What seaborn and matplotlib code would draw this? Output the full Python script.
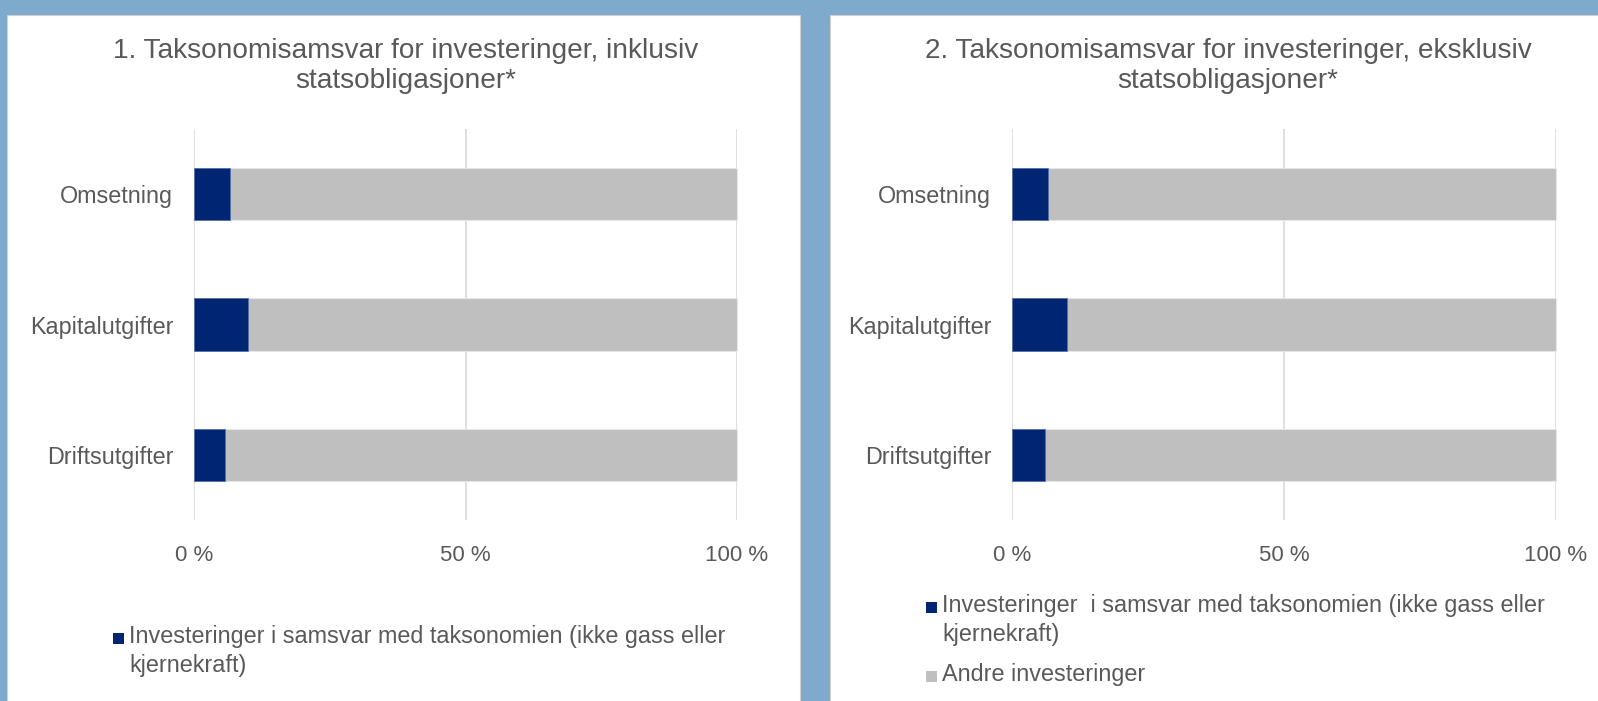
import matplotlib
matplotlib.use("Agg")
import matplotlib.pyplot as plt
from matplotlib.patches import Rectangle
import seaborn as sns
import pandas as pd

# data
kategorier = ["Omsetning", "Kapitalutgifter", "Driftsutgifter"]
samsvar_inkl = [6.6, 10.0, 5.7]
andre_inkl = [93.4, 90.0, 94.3]
samsvar_ekskl = [6.6, 10.1, 6.0]
andre_ekskl = [93.4, 89.9, 94.0]
titler = [
    "1. Taksonomisamsvar for investeringer, inklusiv\nstatsobligasjoner*",
    "2. Taksonomisamsvar for investeringer, eksklusiv\nstatsobligasjoner*",
]
serie_navn = [
    "Investeringer i samsvar med taksonomien (ikke gass eller\nkjernekraft)",
    "Investeringer  i samsvar med taksonomien (ikke gass eller\nkjernekraft)",
    "Andre investeringer",
]
x_ticks = [0, 50, 100]

NAVY = "#002673"
GREY = "#bfbfbf"
TXT = "#595959"
BG = "#7eaacc"

sns.set_style("white")
plt.rcParams["font.family"] = ["Liberation Sans", "DejaVu Sans"]

W, H = 1598, 701
fig = plt.figure(figsize=(W / 100, H / 100), dpi=100)
fig.patch.set_facecolor(BG)

# white panels
for x0, x1 in [(7, 800), (830, W + 2)]:
    fig.add_artist(Rectangle((x0 / W, -0.01), (x1 - x0) / W, 1.01 - 15 / H,
                             transform=fig.transFigure, facecolor="white",
                             edgecolor="#d0d0d0", lw=0.8, zorder=0))


def draw(ax, samsvar, andre):
    df = pd.DataFrame({"kategori": kategorier, "samsvar": samsvar, "andre": andre})
    df["total"] = df["samsvar"] + df["andre"]
    sns.barplot(data=df, x="total", y="kategori", color=GREY, width=0.4,
                edgecolor="#e6e6e6", linewidth=0.8, saturation=1, ax=ax)
    sns.barplot(data=df, x="samsvar", y="kategori", color=NAVY, width=0.4,
                edgecolor="#5670a8", linewidth=0.6, saturation=1, ax=ax)
    ax.set_xlim(0, 100)
    ax.set_ylim(2.5, -0.5)
    ax.set_xlabel("")
    ax.set_ylabel("")
    ax.set_facecolor("white")
    for s in ax.spines.values():
        s.set_visible(False)
    ax.set_xticks(x_ticks)
    ax.set_xticklabels([f"{t} %" for t in x_ticks], fontsize=16, color=TXT)
    ax.grid(axis="x", color="#d9d9d9", lw=1.2)
    ax.set_axisbelow(True)
    ax.tick_params(axis="x", length=5, width=1.2, color="#d9d9d9", pad=13)
    ax.tick_params(axis="y", length=0, pad=15, labelsize=16.8, labelcolor=TXT)
    for b in ax.patches:
        b.set_clip_on(False)


ax1 = fig.add_axes([194 / W, 1 - 520 / H, 543 / W, 391 / H])
draw(ax1, samsvar_inkl, andre_inkl)
ax2 = fig.add_axes([1012 / W, 1 - 520 / H, 544 / W, 391 / H])
draw(ax2, samsvar_ekskl, andre_ekskl)

fig.text(406 / W, 1 - 66 / H, titler[0], ha="center", va="center",
         fontsize=20.2, color=TXT, linespacing=1.25)
fig.text(1228 / W, 1 - 66 / H, titler[1], ha="center", va="center",
         fontsize=20.2, color=TXT, linespacing=1.25)


def legend_entry(x, y_mid, label, color):
    # square aligned with the first text line, text wraps below
    fig.add_artist(Rectangle((x / W, 1 - (y_mid + 5.5) / H), 11 / W, 11 / H,
                             transform=fig.transFigure, facecolor=color,
                             edgecolor="none"))
    fig.text((x + 16) / W, 1 - (y_mid - 13) / H, label, ha="left", va="top",
             fontsize=16.8, color=TXT, linespacing=1.33)


legend_entry(113, 638, serie_navn[0], NAVY)
legend_entry(926, 607, serie_navn[1], NAVY)
legend_entry(926, 676, serie_navn[2], GREY)

fig.savefig("out.png", dpi=100, facecolor=BG)
